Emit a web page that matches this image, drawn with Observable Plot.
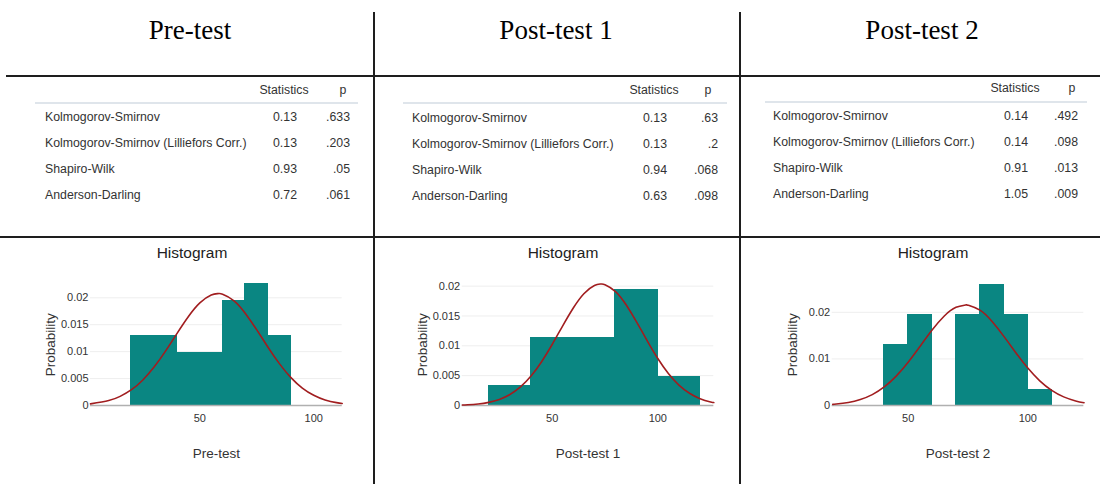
<!DOCTYPE html>
<html><head><meta charset="utf-8">
<script src="https://cdn.jsdelivr.net/npm/d3@7"></script>
<script src="https://cdn.jsdelivr.net/npm/@observablehq/plot@0.6"></script>
<style>
body{margin:0;background:#fff;}
#page{position:relative;width:1100px;height:484px;overflow:hidden;font-family:'Liberation Sans',Arial,Helvetica,sans-serif;color:#333;background:#fff;}
.abs{position:absolute;white-space:nowrap;}
.rule{position:absolute;background:#1e1e1e;}
.title{font-family:'Liberation Serif','Times New Roman',serif;font-size:27px;color:#000;line-height:27px;}
.tbl{font-size:12.3px;color:#333;line-height:14px;}
.hist{font-size:15.5px;color:#222;line-height:18px;}
</style></head>
<body><div id="page"></div>
<script>
// ---------- data ----------
const panelNames = ["Pre-test", "Post-test 1", "Post-test 2"];
const testNames = ["Kolmogorov-Smirnov", "Kolmogorov-Smirnov (Lilliefors Corr.)", "Shapiro-Wilk", "Anderson-Darling"];
const tableHeaders = ["Statistics", "p"];
const preStats = ["0.13", "0.13", "0.93", "0.72"];
const preP = [".633", ".203", ".05", ".061"];
const post1Stats = ["0.13", "0.13", "0.94", "0.63"];
const post1P = [".63", ".2", ".068", ".098"];
const post2Stats = ["0.14", "0.14", "0.91", "1.05"];
const post2P = [".492", ".098", ".013", ".009"];

const preBinEdges = [20, 30, 40, 50, 60, 70, 80, 90];
const preDensity = [0.0129, 0.0129, 0.0097, 0.0097, 0.0194, 0.0226, 0.0129];
const post1BinEdges = [20, 40, 60, 80, 100, 120];
const post1Density = [0.0032, 0.0113, 0.0113, 0.0194, 0.0048];
const post2BinEdges = [40, 50, 60, 70, 80, 90, 100, 110];
const post2Density = [0.0129, 0.0194, 0, 0.0194, 0.0258, 0.0194, 0.0032];

const preCurveX = [2, 10, 15, 20, 25, 30, 35, 40, 45, 50, 55, 58, 60, 65, 70, 75, 80, 85, 90, 95, 100, 105, 110, 112.5];
const preCurveY = [0.000295, 0.000913, 0.001692, 0.002931, 0.004744, 0.007175, 0.010140, 0.013390, 0.016523, 0.019050, 0.020526, 0.020778, 0.020666, 0.019442, 0.017092, 0.014040, 0.010778, 0.007730, 0.005181, 0.003245, 0.001900, 0.001038, 0.000531, 0.000370];
const post1CurveX = [7.5, 10, 15, 20, 25, 30, 35, 40, 45, 50, 55, 60, 65, 70, 73, 75, 80, 85, 90, 95, 100, 105, 110, 115, 120, 125, 126.5];
const post1CurveY = [0.0000765, 0.000116, 0.000255, 0.000526, 0.001015, 0.001835, 0.003108, 0.004933, 0.007337, 0.010224, 0.013351, 0.016335, 0.018727, 0.020117, 0.020354, 0.020248, 0.019097, 0.016875, 0.013973, 0.010841, 0.007881, 0.005369, 0.003426, 0.002049, 0.001148, 0.000603, 0.000491];
const post2CurveX = [18.5, 20, 25, 30, 35, 40, 45, 50, 55, 60, 65, 70, 74, 75, 80, 85, 90, 95, 100, 105, 110, 115, 120, 123.5];
const post2CurveY = [0.000240, 0.000305, 0.000646, 0.001275, 0.002337, 0.003984, 0.006312, 0.009296, 0.012726, 0.016195, 0.019158, 0.021067, 0.021565, 0.021534, 0.020460, 0.018071, 0.014836, 0.011323, 0.008032, 0.005297, 0.003247, 0.001850, 0.000980, 0.000601];

const xTicks = [50, 100];
const preYTicks = [0, 0.005, 0.01, 0.015, 0.02];
const post1YTicks = [0, 0.005, 0.01, 0.015, 0.02];
const post2YTicks = [0, 0.01, 0.02];
const histTitle = "Histogram";
const yLabel = "Probability";

// ---------- layout ----------
const page = document.getElementById("page");
function place(text, x, y, cls, anchor) {
  const el = document.createElement("div");
  el.className = "abs " + cls;
  el.textContent = text;
  el.style.left = x + "px";
  el.style.top = y + "px";
  const tx = anchor === "middle" ? "-50%" : anchor === "end" ? "-100%" : "0";
  el.style.transform = `translate(${tx},-50%)`;
  page.appendChild(el);
}
function rule(x, y, w, h, color) {
  const el = document.createElement("div");
  el.className = "rule";
  el.style.left = x + "px"; el.style.top = y + "px";
  el.style.width = w + "px"; el.style.height = h + "px";
  if (color) el.style.background = color;
  page.appendChild(el);
}

// grid lines of the outer table
rule(372.5, 12, 2, 472);
rule(739, 12, 2, 472);
rule(6, 74.5, 1094, 2);
rule(0, 236, 1100, 2);

// column titles
const titleX = [190, 556, 922];
panelNames.forEach((n, i) => place(n, titleX[i], 30, "title", "middle"));

// stats tables
const tableStats = [preStats, post1Stats, post2Stats];
const tableP = [preP, post1P, post2P];
const tableLayout = [
  {labelX: 45, statX: 285, statHeadX: 284, pX: 350, pHeadX: 343, headY: 90, ruleY: 101.5, ruleX1: 35, ruleX2: 358, rowY: [117, 143, 169, 195]},
  {labelX: 412, statX: 655, statHeadX: 654, pX: 718, pHeadX: 708, headY: 90, ruleY: 102, ruleX1: 403, ruleX2: 727, rowY: [118, 144, 170, 196]},
  {labelX: 773, statX: 1016, statHeadX: 1015, pX: 1078, pHeadX: 1072, headY: 88, ruleY: 101, ruleX1: 765, ruleX2: 1087, rowY: [116, 142, 168, 194]}
];
tableLayout.forEach((L, c) => {
  place(tableHeaders[0], L.statHeadX, L.headY, "tbl", "middle");
  place(tableHeaders[1], L.pHeadX, L.headY, "tbl", "middle");
  rule(L.ruleX1, L.ruleY, L.ruleX2 - L.ruleX1, 2, "#dfe5eb");
  testNames.forEach((t, r) => {
    place(t, L.labelX, L.rowY[r], "tbl", "start");
    place(tableStats[c][r], L.statX, L.rowY[r], "tbl", "middle");
    place(tableP[c][r], L.pX, L.rowY[r], "tbl", "end");
  });
});

// histograms
const histTitleX = [192, 563, 933];
histTitleX.forEach(x => place(histTitle, x, 253, "hist", "middle"));

const barColor = "#0a8682";
const curveColor = "#a11d1f";
const histCfg = [
  {name: panelNames[0], edges: preBinEdges, density: preDensity, cx: preCurveX, cy: preCurveY, yTicks: preYTicks, xDomain: [2, 112.5], yMax: 0.02256, left: 20, ml: 70, mr: 18.3},
  {name: panelNames[1], edges: post1BinEdges, density: post1Density, cx: post1CurveX, cy: post1CurveY, yTicks: post1YTicks, xDomain: [7.43, 126.5], yMax: 0.02036, left: 390, ml: 71.7, mr: 16.7},
  {name: panelNames[2], edges: post2BinEdges, density: post2Density, cx: post2CurveX, cy: post2CurveY, yTicks: post2YTicks, xDomain: [18.26, 123.4], yMax: 0.02607, left: 760, ml: 71.7, mr: 16.7}
];

histCfg.forEach(cfg => {
  const bars = cfg.density.map((d, i) => ({x1: cfg.edges[i], x2: cfg.edges[i + 1], y: d}));
  const curve = cfg.cx.map((x, i) => ({x, y: cfg.cy[i]}));
  const svg = Plot.plot({
    width: 340, height: 200,
    marginLeft: cfg.ml, marginRight: cfg.mr, marginTop: 13.5, marginBottom: 65,
    x: {domain: cfg.xDomain},
    y: {domain: [0, cfg.yMax]},
    style: {fontFamily: "'Liberation Sans', Arial, Helvetica, sans-serif", fontSize: "11px", color: "#333", background: "transparent", overflow: "visible"},
    marks: [
      Plot.gridY(cfg.yTicks, {stroke: "#eeeeee", strokeOpacity: 1, strokeWidth: 1}),
      Plot.rectY(bars, {x1: "x1", x2: "x2", y: "y", fill: barColor, stroke: barColor, strokeWidth: 1.2, shapeRendering: "crispEdges", inset: 0}),
      Plot.ruleY([0], {stroke: "#b0b0b0", strokeWidth: 1.5}),
      Plot.line(curve, {x: "x", y: "y", stroke: curveColor, strokeWidth: 1.6, curve: "natural"}),
      Plot.axisX({ticks: xTicks, tickSize: 0, tickPadding: 9, label: null}),
      Plot.axisY({ticks: cfg.yTicks, tickSize: 0, tickPadding: 2, label: null, tickFormat: d => String(d)}),
      Plot.text([yLabel], {text: d => d, frameAnchor: "left", textAnchor: "middle", lineAnchor: "middle", rotate: -90, dx: -40, fontSize: 13.5, fill: "#333"}),
      Plot.text([cfg.name], {text: d => d, frameAnchor: "bottom", textAnchor: "middle", lineAnchor: "middle", dy: 48, fontSize: 13.5, fill: "#333"})
    ]
  });
  svg.style.position = "absolute";
  svg.style.left = cfg.left + "px";
  svg.style.top = "270px";
  page.appendChild(svg);
});
</script>
</body></html>
